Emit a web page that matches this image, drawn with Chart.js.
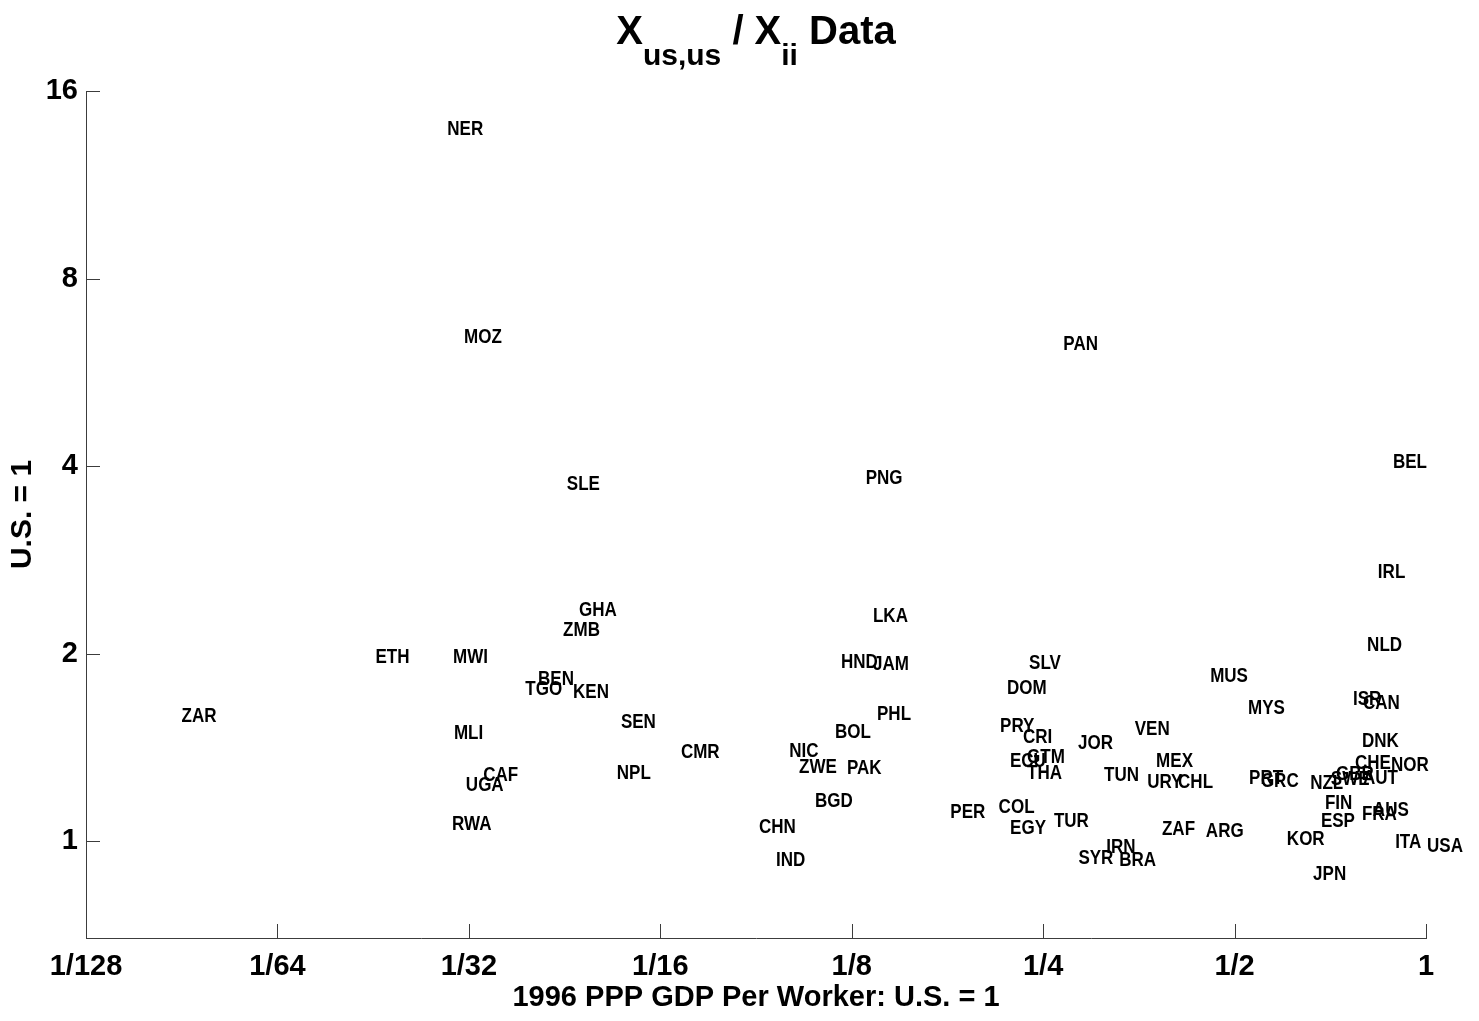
<!DOCTYPE html>
<html>
<head>
<meta charset="utf-8">
<title>X us,us / X ii Data</title>
<script src="https://cdn.jsdelivr.net/npm/chart.js@4.4.1/dist/chart.umd.min.js"></script>
<style>
  html, body { margin: 0; padding: 0; background: #fff; }
  #wrap { width: 1479px; height: 1021px; }
</style>
</head>
<body>
<div id="wrap"><canvas id="chart" width="1479" height="1021"></canvas></div>
<script>
// country codes, 1996 PPP GDP per worker (U.S. = 1), X_us,us / X_ii (U.S. = 1)
const countryCodes = [
  'NER', 'MOZ', 'PAN', 'SLE', 'PNG', 'BEL', 'IRL', 'GHA', 'ZMB', 'LKA',
  'ETH', 'MWI', 'NLD', 'HND', 'JAM', 'SLV', 'MUS', 'DOM', 'BEN', 'TGO',
  'KEN', 'ZAR', 'ISR', 'CAN', 'MYS', 'PHL', 'SEN', 'PRY', 'VEN', 'BOL',
  'MLI', 'CRI', 'DNK', 'JOR', 'NIC', 'CMR', 'GTM', 'ECU', 'CHE', 'MEX',
  'NOR', 'ZWE', 'PAK', 'THA', 'NPL', 'CAF', 'GBR', 'SWE', 'AUT', 'TUN',
  'PRT', 'GRC', 'NZL', 'URY', 'CHL', 'UGA', 'BGD', 'FIN', 'PER', 'COL',
  'AUS', 'FRA', 'ESP', 'TUR', 'RWA', 'CHN', 'EGY', 'ZAF', 'ARG', 'KOR',
  'ITA', 'USA', 'IRN', 'SYR', 'BRA', 'IND', 'JPN'
];
const gdpPerWorker = [
  0.0288, 0.0306, 0.268, 0.0444, 0.131, 0.884, 0.837, 0.0464, 0.0438, 0.1345,
  0.0222, 0.0294, 0.805, 0.1198, 0.1345, 0.2367, 0.456, 0.2186, 0.0400, 0.0382,
  0.0454, 0.0110, 0.765, 0.793, 0.523, 0.1365, 0.0540, 0.2131, 0.347, 0.1172,
  0.0295, 0.2316, 0.790, 0.2826, 0.0993, 0.0671, 0.235, 0.2209, 0.7705, 0.375,
  0.878, 0.1029, 0.1224, 0.235, 0.0532, 0.0328, 0.719, 0.706, 0.793, 0.3105,
  0.525, 0.548, 0.655, 0.363, 0.406, 0.0308, 0.109, 0.691, 0.178, 0.212,
  0.822, 0.790, 0.681, 0.259, 0.0293, 0.0890, 0.221, 0.383, 0.449, 0.602,
  0.891, 1.0, 0.313, 0.283, 0.328, 0.0947, 0.662
];
const xRatio = [
  14.17, 6.56, 6.40, 3.81, 3.89, 4.13, 2.75, 2.39, 2.22, 2.34,
  2.01, 2.01, 2.10, 1.976, 1.962, 1.969, 1.877, 1.796, 1.856, 1.789,
  1.770, 1.620, 1.725, 1.699, 1.668, 1.632, 1.579, 1.561, 1.544, 1.522,
  1.516, 1.494, 1.477, 1.461, 1.419, 1.414, 1.388, 1.368, 1.358, 1.368,
  1.348, 1.338, 1.333, 1.308, 1.308, 1.299, 1.304, 1.280, 1.285, 1.299,
  1.285, 1.270, 1.261, 1.266, 1.266, 1.252, 1.180, 1.172, 1.133, 1.154,
  1.142, 1.125, 1.096, 1.096, 1.084, 1.073, 1.069, 1.065, 1.057, 1.026,
  1.015, 1.0, 0.996, 0.957, 0.950, 0.950, 0.902
];

const xTickValues = [1 / 128, 1 / 64, 1 / 32, 1 / 16, 1 / 8, 1 / 4, 1 / 2, 1];
const xTickLabels = ['1/128', '1/64', '1/32', '1/16', '1/8', '1/4', '1/2', '1'];
const yTickValues = [1, 2, 4, 8, 16];
const yTickLabels = ['1', '2', '4', '8', '16'];

const FONT = "'Liberation Sans', Arial, Helvetica, sans-serif";
const AXIS_COLOR = '#3c3c3c';

Chart.defaults.font.family = FONT;
Chart.defaults.color = '#000';

// country codes written at each point (left aligned, narrow bold type)
const countryLabels = {
  id: 'countryLabels',
  afterDatasetsDraw(chart) {
    const ctx = chart.ctx;
    const meta = chart.getDatasetMeta(0);
    ctx.save();
    ctx.fillStyle = '#000';
    ctx.font = 'bold 20.5px ' + FONT;
    ctx.textAlign = 'left';
    ctx.textBaseline = 'middle';
    meta.data.forEach((pt, i) => {
      ctx.save();
      ctx.translate(pt.x + 1, pt.y + 5);
      ctx.scale(0.83, 1);
      ctx.fillText(countryCodes[i], 0, 0);
      ctx.restore();
    });
    ctx.restore();
  }
};

// inward tick marks and the title with subscripts
const axisExtras = {
  id: 'axisExtras',
  afterDraw(chart) {
    const ctx = chart.ctx;
    const area = chart.chartArea;
    const xs = chart.scales.x;
    const ys = chart.scales.y;
    const len = 14;

    ctx.save();
    ctx.strokeStyle = AXIS_COLOR;
    ctx.lineWidth = 1;
    ctx.beginPath();
    xs.ticks.forEach(t => {
      const px = Math.round(xs.getPixelForValue(t.value)) + 0.5;
      ctx.moveTo(px, area.bottom);
      ctx.lineTo(px, area.bottom - len);
    });
    ys.ticks.forEach(t => {
      const py = Math.round(ys.getPixelForValue(t.value)) + 0.5;
      ctx.moveTo(area.left, py);
      ctx.lineTo(area.left + len, py);
    });
    ctx.stroke();

    // title: X_{us,us} / X_{ii} Data
    const big = 'bold 40px ' + FONT;
    const small = 'bold 30px ' + FONT;
    const parts = [
      { text: 'X', font: big, dy: 0 },
      { text: 'us,us', font: small, dy: 21 },
      { text: ' / X', font: big, dy: 0 },
      { text: 'ii', font: small, dy: 21 },
      { text: ' Data', font: big, dy: 0 }
    ];
    let total = 0;
    parts.forEach(p => { ctx.font = p.font; p.w = ctx.measureText(p.text).width; total += p.w; });
    let x = (area.left + area.right) / 2 - total / 2;
    const baseline = 44;
    ctx.fillStyle = '#000';
    ctx.textAlign = 'left';
    ctx.textBaseline = 'alphabetic';
    parts.forEach(p => {
      ctx.font = p.font;
      ctx.fillText(p.text, x, baseline + p.dy);
      x += p.w;
    });
    ctx.restore();
  }
};

new Chart(document.getElementById('chart'), {
  type: 'scatter',
  data: {
    datasets: [{
      label: 'X_us,us / X_ii',
      data: countryCodes.map((c, i) => ({ x: gdpPerWorker[i], y: xRatio[i] })),
      pointRadius: 0,
      pointHoverRadius: 0,
      showLine: false
    }]
  },
  options: {
    responsive: false,
    animation: false,
    events: [],
    layout: { padding: { top: 91, right: 53, left: 0, bottom: 0 } },
    plugins: {
      legend: { display: false },
      tooltip: { enabled: false },
      title: { display: false }
    },
    scales: {
      x: {
        type: 'logarithmic',
        min: 1 / 128,
        max: 1,
        afterBuildTicks: (scale) => { scale.ticks = xTickValues.map(v => ({ value: v })); },
        afterFit: (scale) => { scale.height = 83; },
        grid: { display: false, drawTicks: false },
        border: { display: true, color: AXIS_COLOR, width: 1 },
        ticks: {
          autoSkip: false,
          maxRotation: 0,
          padding: 12,
          color: '#000',
          font: { size: 29, weight: 'bold' },
          callback: (v, i) => xTickLabels[i]
        },
        title: {
          display: true,
          text: '1996 PPP GDP Per Worker: U.S. = 1',
          color: '#000',
          font: { size: 29, weight: 'bold' },
          padding: { top: 0, bottom: 6 }
        }
      },
      y: {
        type: 'logarithmic',
        min: Math.SQRT1_2,
        max: 16,
        afterBuildTicks: (scale) => { scale.ticks = yTickValues.map(v => ({ value: v })); },
        afterFit: (scale) => { scale.width = 86; },
        grid: { display: false, drawTicks: false },
        border: { display: true, color: AXIS_COLOR, width: 1 },
        ticks: {
          autoSkip: false,
          padding: 8,
          color: '#000',
          font: { size: 29, weight: 'bold' },
          callback: (v, i) => yTickLabels[i]
        },
        title: {
          display: true,
          text: 'U.S. = 1',
          color: '#000',
          font: { size: 30, weight: 'bold' },
          padding: { top: 5, bottom: 0 }
        }
      }
    }
  },
  plugins: [countryLabels, axisExtras]
});
</script>
</body>
</html>
